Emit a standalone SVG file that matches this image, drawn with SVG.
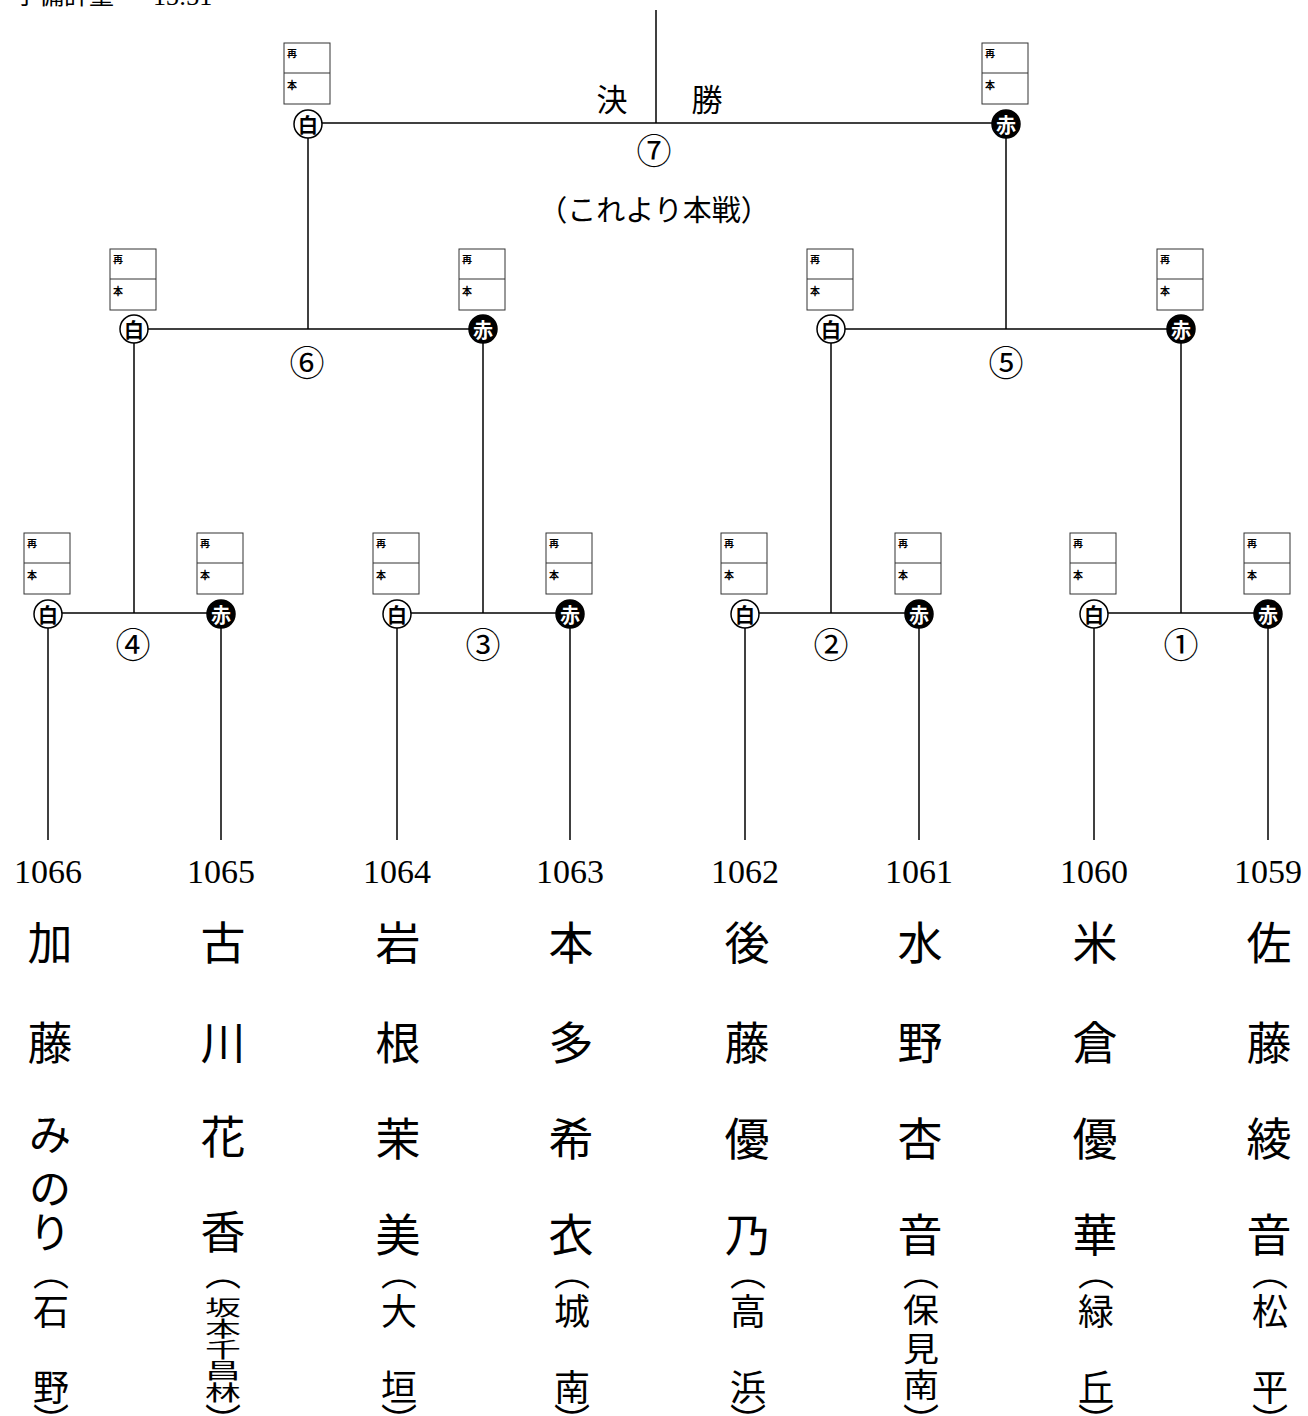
<svg xmlns="http://www.w3.org/2000/svg" width="1308" height="1416" viewBox="0 0 1308 1416">
<style>
.ln{stroke:#000;stroke-width:1.5;fill:none}
.bx{fill:#fff;stroke:#333;stroke-width:1}
.dv{stroke:#333;stroke-width:1}
.sm{font-family:"Noto Sans CJK JP",sans-serif;font-size:10px;font-weight:bold;fill:#000}
.cw{fill:#fff;stroke:#000;stroke-width:1.5}
.cr{fill:#000;stroke:#000;stroke-width:1.5}
.tw{font-family:"Noto Sans CJK JP",sans-serif;font-size:20px;font-weight:bold;fill:#000;text-anchor:middle;dominant-baseline:central}
.tr{font-family:"Noto Sans CJK JP",sans-serif;font-size:20px;font-weight:bold;fill:#fff;text-anchor:middle;dominant-baseline:central}
.num{font-family:"Noto Sans CJK JP",sans-serif;font-size:35px;fill:#000;text-anchor:middle;dominant-baseline:central}
.big{font-family:"Noto Sans CJK JP",sans-serif;font-size:31px;fill:#000;text-anchor:middle;dominant-baseline:central}
.mid{font-family:"Noto Sans CJK JP",sans-serif;font-size:29px;fill:#000;text-anchor:middle;dominant-baseline:central}
.id{font-family:"Liberation Serif",serif;font-size:34px;fill:#000;text-anchor:middle}
.nm{font-family:"Noto Sans CJK JP",sans-serif;font-size:45px;fill:#000;text-anchor:middle;dominant-baseline:central}
.kn{font-family:"Noto Sans CJK JP",sans-serif;font-size:42px;fill:#000;text-anchor:middle;dominant-baseline:central}
.sc{font-family:"Noto Sans CJK JP",sans-serif;font-size:36px;fill:#000;text-anchor:middle;dominant-baseline:central}
.hd{font-family:"Noto Sans CJK JP",sans-serif;font-size:25px;fill:#000}
.hdn{font-family:"Liberation Serif",serif;font-size:26px;fill:#000}
</style>
<defs>
<g id="box"><rect class="bx" x="-24" y="-80" width="46" height="61"/><line class="dv" x1="-24" y1="-50" x2="22" y2="-50"/><text class="sm" x="-21" y="-66">再</text><text class="sm" x="-21" y="-34">本</text></g>
</defs>
<text class="hd" x="14" y="4">予備計量</text>
<text class="hdn" x="153" y="5">13:31</text>

<g id="connectors">
<line class="ln" x1="656" y1="10" x2="656" y2="123"/>
<line class="ln" x1="308" y1="123" x2="1006" y2="123"/>
<line class="ln" x1="308" y1="123" x2="308" y2="329"/>
<line class="ln" x1="1006" y1="123" x2="1006" y2="329"/>
<line class="ln" x1="134" y1="329" x2="483" y2="329"/>
<line class="ln" x1="831" y1="329" x2="1181" y2="329"/>
<line class="ln" x1="134" y1="329" x2="134" y2="613"/>
<line class="ln" x1="483" y1="329" x2="483" y2="613"/>
<line class="ln" x1="831" y1="329" x2="831" y2="613"/>
<line class="ln" x1="1181" y1="329" x2="1181" y2="613"/>
<line class="ln" x1="48" y1="613" x2="221" y2="613"/>
<line class="ln" x1="397" y1="613" x2="570" y2="613"/>
<line class="ln" x1="745" y1="613" x2="919" y2="613"/>
<line class="ln" x1="1094" y1="613" x2="1268" y2="613"/>
<line class="ln" x1="48" y1="613" x2="48" y2="840"/>
<line class="ln" x1="221" y1="613" x2="221" y2="840"/>
<line class="ln" x1="397" y1="613" x2="397" y2="840"/>
<line class="ln" x1="570" y1="613" x2="570" y2="840"/>
<line class="ln" x1="745" y1="613" x2="745" y2="840"/>
<line class="ln" x1="919" y1="613" x2="919" y2="840"/>
<line class="ln" x1="1094" y1="613" x2="1094" y2="840"/>
<line class="ln" x1="1268" y1="613" x2="1268" y2="840"/>
</g>

<g id="final-labels">
<text class="big" x="612" y="97">決</text>
<text class="big" x="707" y="97">勝</text>
<text class="num" x="654" y="148">⑦</text>
<text class="mid" x="654" y="208">（これより本戦）</text>
</g>

<g id="match-7-white"><use href="#box" transform="translate(308,123)"/><circle class="cw" cx="308" cy="124" r="14"/><text class="tw" x="308" y="124">白</text></g>
<g id="match-7-red"><use href="#box" transform="translate(1006,123)"/><circle class="cr" cx="1006" cy="124" r="14"/><text class="tr" x="1006" y="124">赤</text></g>

<g id="match-6-white"><use href="#box" transform="translate(134,329)"/><circle class="cw" cx="134" cy="329" r="14"/><text class="tw" x="134" y="329">白</text></g>
<g id="match-6-red"><use href="#box" transform="translate(483,329)"/><circle class="cr" cx="483" cy="329" r="14"/><text class="tr" x="483" y="329">赤</text></g>
<g id="match-5-white"><use href="#box" transform="translate(831,329)"/><circle class="cw" cx="831" cy="329" r="14"/><text class="tw" x="831" y="329">白</text></g>
<g id="match-5-red"><use href="#box" transform="translate(1181,329)"/><circle class="cr" cx="1181" cy="329" r="14"/><text class="tr" x="1181" y="329">赤</text></g>
<g id="labels-r2"><text class="num" x="307" y="360">⑥</text><text class="num" x="1006" y="360">⑤</text></g>

<g id="match-4-white"><use href="#box" transform="translate(48,613)"/><circle class="cw" cx="48" cy="614" r="14"/><text class="tw" x="48" y="614">白</text></g>
<g id="match-4-red"><use href="#box" transform="translate(221,613)"/><circle class="cr" cx="221" cy="614" r="14"/><text class="tr" x="221" y="614">赤</text></g>
<g id="match-3-white"><use href="#box" transform="translate(397,613)"/><circle class="cw" cx="397" cy="614" r="14"/><text class="tw" x="397" y="614">白</text></g>
<g id="match-3-red"><use href="#box" transform="translate(570,613)"/><circle class="cr" cx="570" cy="614" r="14"/><text class="tr" x="570" y="614">赤</text></g>
<g id="match-2-white"><use href="#box" transform="translate(745,613)"/><circle class="cw" cx="745" cy="614" r="14"/><text class="tw" x="745" y="614">白</text></g>
<g id="match-2-red"><use href="#box" transform="translate(919,613)"/><circle class="cr" cx="919" cy="614" r="14"/><text class="tr" x="919" y="614">赤</text></g>
<g id="match-1-white"><use href="#box" transform="translate(1094,613)"/><circle class="cw" cx="1094" cy="614" r="14"/><text class="tw" x="1094" y="614">白</text></g>
<g id="match-1-red"><use href="#box" transform="translate(1268,613)"/><circle class="cr" cx="1268" cy="614" r="14"/><text class="tr" x="1268" y="614">赤</text></g>
<g id="labels-r1"><text class="num" x="133" y="642">④</text><text class="num" x="483" y="642">③</text><text class="num" x="831" y="642">②</text><text class="num" x="1181" y="642">①</text></g>

<g id="player-1066"><text class="id" x="48" y="883">1066</text>
<text class="nm"><tspan x="50" y="940">加</tspan><tspan x="50" y="1040">藤</tspan></text>
<text class="kn"><tspan x="50" y="1131">み</tspan><tspan x="50" y="1185">の</tspan><tspan x="50" y="1229">り</tspan></text>
<text class="sc"><tspan x="51" y="1270">︵</tspan><tspan x="51" y="1309">石</tspan><tspan x="51" y="1385">野</tspan><tspan x="51" y="1419">︶</tspan></text></g>

<g id="player-1065"><text class="id" x="221" y="883">1065</text>
<text class="nm"><tspan x="223" y="940">古</tspan><tspan x="223" y="1040">川</tspan><tspan x="223" y="1134">花</tspan><tspan x="223" y="1229">香</tspan></text>
<text class="sc" x="223" y="1270">︵</text>
<text class="sc" transform="translate(223,0) scale(1,0.58)"><tspan x="0" y="2251">坂</tspan><tspan x="0" y="2288">本</tspan><tspan x="0" y="2324">千</tspan><tspan x="0" y="2360">昌</tspan><tspan x="0" y="2398">林</tspan></text>
<text class="sc" x="223" y="1419">︶</text></g>

<g id="player-1064"><text class="id" x="397" y="883">1064</text>
<text class="nm"><tspan x="398" y="940">岩</tspan><tspan x="398" y="1040">根</tspan><tspan x="398" y="1136">茉</tspan><tspan x="398" y="1232">美</tspan></text>
<text class="sc"><tspan x="399" y="1270">︵</tspan><tspan x="399" y="1309">大</tspan><tspan x="399" y="1385">垣</tspan><tspan x="399" y="1419">︶</tspan></text></g>

<g id="player-1063"><text class="id" x="570" y="883">1063</text>
<text class="nm"><tspan x="571" y="940">本</tspan><tspan x="571" y="1040">多</tspan><tspan x="571" y="1136">希</tspan><tspan x="571" y="1232">衣</tspan></text>
<text class="sc"><tspan x="572" y="1270">︵</tspan><tspan x="572" y="1309">城</tspan><tspan x="572" y="1385">南</tspan><tspan x="572" y="1419">︶</tspan></text></g>

<g id="player-1062"><text class="id" x="745" y="883">1062</text>
<text class="nm"><tspan x="747" y="940">後</tspan><tspan x="747" y="1040">藤</tspan><tspan x="747" y="1136">優</tspan><tspan x="747" y="1232">乃</tspan></text>
<text class="sc"><tspan x="748" y="1270">︵</tspan><tspan x="748" y="1309">高</tspan><tspan x="748" y="1385">浜</tspan><tspan x="748" y="1419">︶</tspan></text></g>

<g id="player-1061"><text class="id" x="919" y="883">1061</text>
<text class="nm"><tspan x="920" y="940">水</tspan><tspan x="920" y="1040">野</tspan><tspan x="920" y="1136">杏</tspan><tspan x="920" y="1232">音</tspan></text>
<text class="sc" x="921" y="1270">︵</text>
<text class="sc" transform="translate(921,0) scale(1,0.9)"><tspan x="0" y="1453">保</tspan><tspan x="0" y="1497">見</tspan><tspan x="0" y="1537">南</tspan></text>
<text class="sc" x="921" y="1419">︶</text></g>

<g id="player-1060"><text class="id" x="1094" y="883">1060</text>
<text class="nm"><tspan x="1095" y="940">米</tspan><tspan x="1095" y="1040">倉</tspan><tspan x="1095" y="1136">優</tspan><tspan x="1095" y="1232">華</tspan></text>
<text class="sc"><tspan x="1096" y="1270">︵</tspan><tspan x="1096" y="1309">緑</tspan><tspan x="1096" y="1385">丘</tspan><tspan x="1096" y="1419">︶</tspan></text></g>

<g id="player-1059"><text class="id" x="1268" y="883">1059</text>
<text class="nm"><tspan x="1269" y="940">佐</tspan><tspan x="1269" y="1040">藤</tspan><tspan x="1269" y="1136">綾</tspan><tspan x="1269" y="1232">音</tspan></text>
<text class="sc"><tspan x="1270" y="1270">︵</tspan><tspan x="1270" y="1309">松</tspan><tspan x="1270" y="1385">平</tspan><tspan x="1270" y="1419">︶</tspan></text></g>
</svg>
